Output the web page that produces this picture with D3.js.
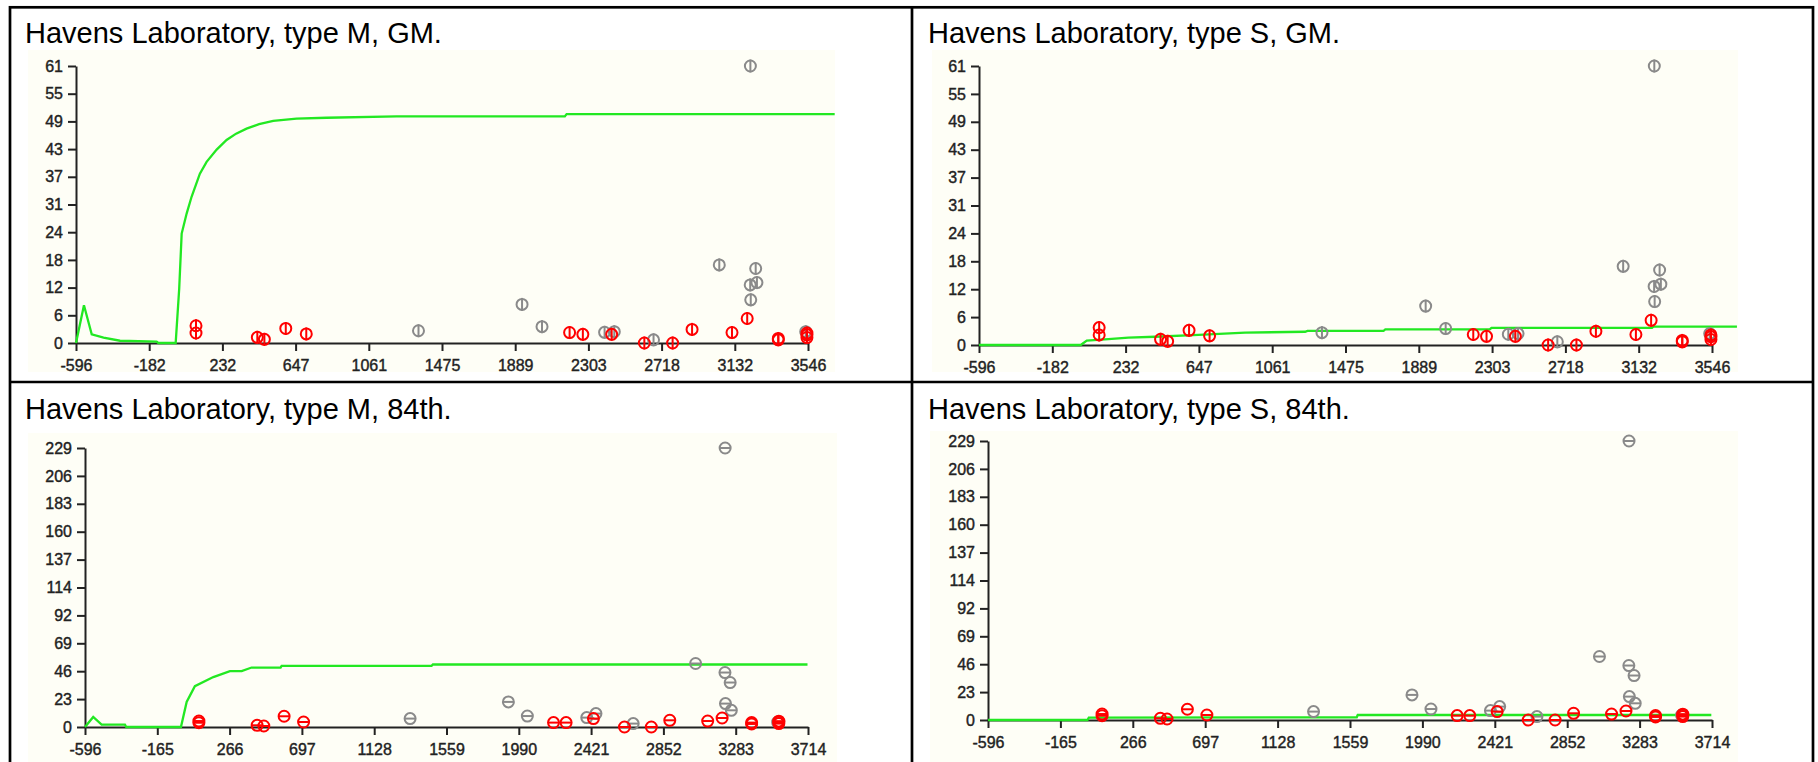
<!DOCTYPE html>
<html>
<head>
<meta charset="utf-8">
<script src="https://cdn.jsdelivr.net/npm/d3@7"></script>
<style>
  body { margin: 0; background: #fff; }
  svg text { font-family: "Liberation Sans", Arial, sans-serif; }
</style>
</head>
<body>
<div id="chart"></div>
<script>
// ---- data ----
var titles = [
  "Havens Laboratory, type M, GM.",
  "Havens Laboratory, type S, GM.",
  "Havens Laboratory, type M, 84th.",
  "Havens Laboratory, type S, 84th."
];

var xTickLabelsGM = ["-596", "-182", "232", "647", "1061", "1475", "1889", "2303", "2718", "3132", "3546"];
var yTickLabelsGM = ["0", "6", "12", "18", "24", "31", "37", "43", "49", "55", "61"];
var xTickLabels84 = ["-596", "-165", "266", "697", "1128", "1559", "1990", "2421", "2852", "3283", "3714"];
var yTickLabels84 = ["0", "23", "46", "69", "92", "114", "137", "160", "183", "206", "229"];

// measured points (red = inside, gray = others)
var redX   = [83, 83, 430, 470, 591, 707, 2197, 2272, 2435, 2620, 2780, 2890, 3116, 3202, 3378, 3378, 3540, 3540, 3540];
var redGM  = [3.8, 2.2, 1.25, 0.8, 3.2, 2.0, 2.3, 1.9, 1.9, 0, 0, 3.0, 2.3, 5.4, 1.0, 0.7, 1.8, 1.2, 2.2];
var red84  = [4.9, 3.5, 1.4, 0.8, 8.8, 4.1, 3.6, 3.6, 6.9, 0, 0, 5.5, 4.9, 7.4, 3.6, 2.5, 4.1, 2.8, 4.8];

var grayX  = [1342, 1928, 2041, 2395, 2450, 2672, 3044, 3220, 3250, 3219, 3257, 3222, 3533];
var grayGM = [2.7, 8.5, 3.6, 2.35, 2.5, 0.7, 17.2, 61, 16.4, 12.8, 13.3, 9.5, 2.5];
var gray84 = [6.9, 20.6, 9.0, 7.7, 11, 2.8, 52.1, 229, 36.5, 44.7, 13.7, 19.2, 4.0];

// green model curves [x, y]
var curveMGM = [[-596, 0], [-551, 8.3], [-507, 1.9], [-440, 1.2], [-347, 0.5], [-140, 0.3], [-130, 0],
  [-32, 0], [-12, 12], [2, 24.1], [30, 28.5], [58, 32.2], [105, 37.3], [143, 39.9], [200, 42.6],
  [256, 44.7], [310, 46.1], [369, 47.2], [440, 48.2], [520, 48.9], [652, 49.4], [822, 49.6],
  [1218, 49.9], [2170, 49.9], [2180, 50.4], [3697, 50.4]];
var curveSGM = [[-596, 0], [-21, 0], [13, 0.95], [135, 1.3], [248, 1.6], [399, 1.8], [644, 2.2],
  [908, 2.7], [1247, 2.9], [1260, 3.1], [1690, 3.1], [1700, 3.4], [2290, 3.4], [2300, 3.75],
  [3207, 3.75], [3215, 4.0], [3687, 4.0]];
var curveM84 = [[-596, 0], [-547, 8.2], [-497, 2], [-358, 2], [-350, 0], [-24, 0], [10, 20.6],
  [59, 33.5], [169, 41], [268, 45.8], [338, 45.8], [397, 48.8], [570, 48.8], [576, 50.2],
  [1470, 50.2], [1478, 51.3], [3711, 51.3]];
var curveS84 = [[-596, 0], [-4, 0], [4, 1.9], [1599, 2.2], [1605, 4.1], [3710, 4.1]];

// ---- layout ----
var W = 1818, H = 762;
var svg = d3.select("#chart").append("svg").attr("width", W).attr("height", H);

var panels = [
  { title: titles[0], tx: 25, ty: 43, bg: [28, 50, 807, 322], xr: [76, 808], yr: [343, 66],
    xMax: 3546, yMax: 61, xLabels: xTickLabelsGM, yLabels: yTickLabelsGM,
    curve: curveMGM, redY: redGM, grayY: grayGM, bar: "v" },
  { title: titles[1], tx: 928, ty: 43, bg: [932, 50, 806, 322], xr: [979, 1712], yr: [345, 66],
    xMax: 3546, yMax: 61, xLabels: xTickLabelsGM, yLabels: yTickLabelsGM,
    curve: curveSGM, redY: redGM, grayY: grayGM, bar: "v" },
  { title: titles[2], tx: 25, ty: 419, bg: [28, 433, 809, 330], xr: [85, 808], yr: [727, 448],
    xMax: 3714, yMax: 229, xLabels: xTickLabels84, yLabels: yTickLabels84,
    curve: curveM84, redY: red84, grayY: gray84, bar: "h" },
  { title: titles[3], tx: 928, ty: 419, bg: [930, 431, 808, 332], xr: [988, 1712], yr: [720, 441],
    xMax: 3714, yMax: 229, xLabels: xTickLabels84, yLabels: yTickLabels84,
    curve: curveS84, redY: red84, grayY: gray84, bar: "h" }
];

function drawMarkers(g, xs, ys, x, y, color, bar) {
  var m = g.selectAll(null)
    .data(xs.map(function (d, i) { return [d, ys[i]]; }))
    .enter().append("g")
    .attr("transform", function (d) { return "translate(" + x(d[0]) + "," + y(d[1]) + ")"; })
    .attr("fill", "none")
    .attr("stroke", color)
    .attr("stroke-width", 2);
  m.append("circle").attr("r", 5.5);
  if (bar == "v") {
    m.append("line").attr("x1", 0).attr("x2", 0).attr("y1", -6.5).attr("y2", 6.5);
  } else {
    m.append("line").attr("x1", -5.5).attr("x2", 5.5).attr("y1", 0).attr("y2", 0);
  }
}

function drawPanel(p) {
  var x = d3.scaleLinear().domain([-596, p.xMax]).range(p.xr);
  var y = d3.scaleLinear().domain([0, p.yMax]).range(p.yr);
  var g = svg.append("g");

  // plot background
  g.append("rect")
    .attr("x", p.bg[0]).attr("y", p.bg[1])
    .attr("width", p.bg[2]).attr("height", p.bg[3])
    .attr("fill", "#fefef6");

  g.append("text")
    .attr("x", p.tx).attr("y", p.ty)
    .style("font-size", "29px")
    .attr("fill", "#000")
    .text(p.title);

  // equally spaced ticks, labels rounded as in the picture
  var xVals = d3.range(11).map(function (i) { return -596 + i * (p.xMax + 596) / 10; });
  var yVals = d3.range(11).map(function (i) { return i * p.yMax / 10; });

  var xAxis = g.append("g")
    .attr("transform", "translate(0," + p.yr[0] + ")")
    .call(d3.axisBottom(x).tickValues(xVals)
      .tickFormat(function (d, i) { return p.xLabels[i]; })
      .tickSize(8).tickSizeOuter(0).tickPadding(9));

  var yAxis = g.append("g")
    .attr("transform", "translate(" + p.xr[0] + ",0)")
    .call(d3.axisLeft(y).tickValues(yVals)
      .tickFormat(function (d, i) { return p.yLabels[i]; })
      .tickSize(8).tickSizeOuter(0).tickPadding(5));

  [xAxis, yAxis].forEach(function (a) {
    a.select(".domain").attr("stroke", "#222").attr("stroke-width", 2);
    a.selectAll(".tick line").attr("stroke", "#222").attr("stroke-width", 2);
    a.selectAll(".tick text")
      .attr("fill", "#222")
      .attr("stroke", "#222")
      .attr("stroke-width", 0.4)
      .style("font-size", "16px");
  });

  // model curve
  var line = d3.line()
    .x(function (d) { return x(d[0]); })
    .y(function (d) { return y(d[1]); });
  g.append("path")
    .datum(p.curve)
    .attr("d", line)
    .attr("fill", "none")
    .attr("stroke", "#22e822")
    .attr("stroke-width", 2.3);

  drawMarkers(g, grayX, p.grayY, x, y, "#8a8a8a", p.bar);
  drawMarkers(g, redX, p.redY, x, y, "#ff0000", p.bar);
}

panels.forEach(drawPanel);

// table grid
var grid = svg.append("g").attr("stroke", "#000").attr("stroke-width", 2.7).attr("fill", "none");
grid.append("rect").attr("x", 10).attr("y", 7.3).attr("width", 1803).attr("height", 780);
grid.append("line").attr("x1", 912).attr("x2", 912).attr("y1", 7).attr("y2", 790);
grid.append("line").attr("x1", 10).attr("x2", 1813).attr("y1", 382).attr("y2", 382);
</script>
</body>
</html>
